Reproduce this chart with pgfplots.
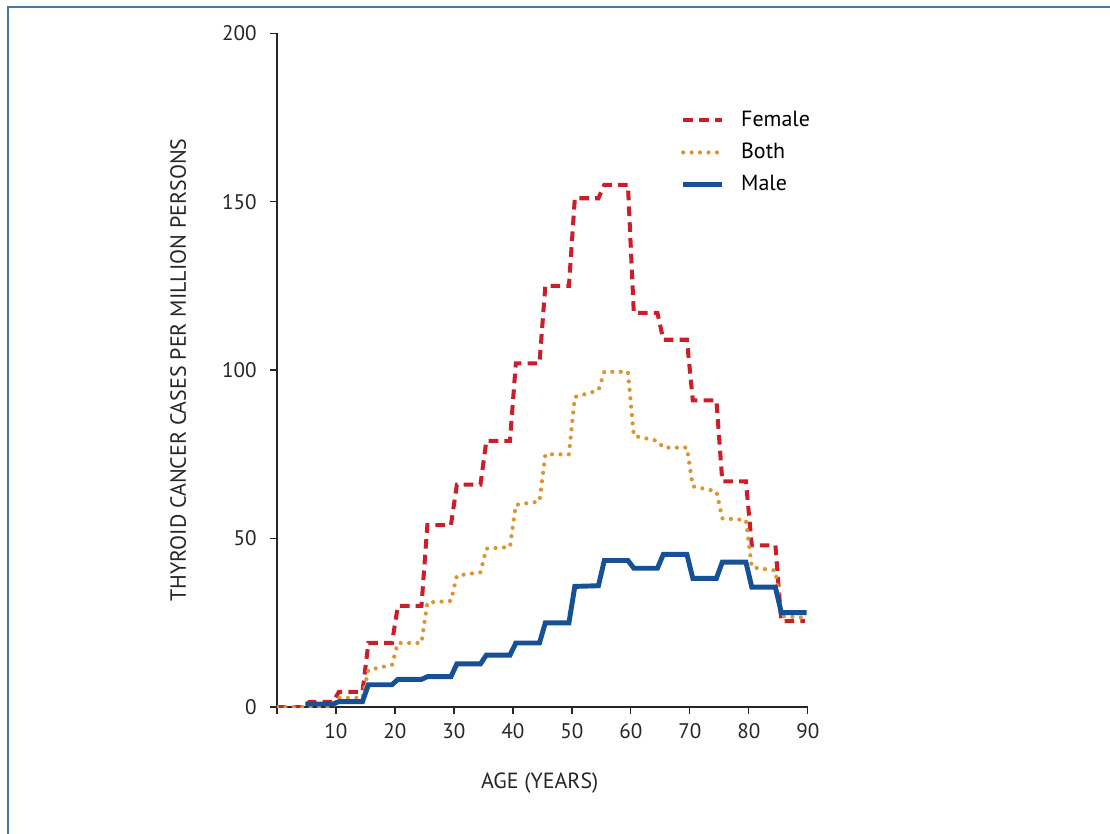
\documentclass[border=0pt]{standalone}
\usepackage{pgfplots}
\pgfplotsset{compat=1.18}
\usepackage{fontspec}
\setmainfont{PT Sans}

\definecolor{femred}{RGB}{204,30,40}
\definecolor{bothorange}{RGB}{222,148,50}
\definecolor{maleblue}{RGB}{22,80,150}
\definecolor{framecol}{RGB}{72,118,166}

\begin{document}
\begin{tikzpicture}[x=0.02cm,y=0.02cm]
  \useasboundingbox (0,0) rectangle (1110,833);
  % frame (left and top edges only are visible)
  \draw[framecol, line width=1.6pt] (8,-10) -- (8,826) -- (1120,826);

  \begin{axis}[
    at={(5.54cm,2.52cm)}, anchor=south west,
    scale only axis,
    width=10.62cm, height=13.48cm,
    xmin=0, xmax=90, ymin=0, ymax=200,
    axis lines=left,
    axis line style={-, line width=0.7pt, black!85},
    xtick={0,10,...,90},
    xticklabels={,10,20,30,40,50,60,70,80,90},
    ytick={0,50,100,150,200},
    /pgf/number format/assume math mode=true,
    tick align=outside,
    major tick length=4pt,
    tick style={line width=0.7pt, black!85},
    ticklabel style={font=\fontsize{12}{14}\selectfont, text=black!85},
    xticklabel style={yshift=-2pt},
    yticklabel style={xshift=-4pt},
    xlabel={AGE (YEARS)},
    ylabel={THYROID CANCER CASES PER MILLION PERSONS},
    label style={font=\fontsize{12.5}{15}\selectfont, text=black!85},
    xlabel style={at={(axis description cs:0.495,-0.113)}, anchor=center},
    ylabel style={at={(axis description cs:-0.186,0.5)}, anchor=center},
    legend style={at={(axis cs:67.5,179)}, anchor=north west, draw=none, fill=none,
      font=\fontsize{12.5}{15}\selectfont, row sep=4pt},
    legend cell align=left,
    legend image code/.code={\draw[#1] (0cm,0cm) -- (0.78cm,0cm); \path (1.04cm,0cm);},
  ]
  % Female
  \addplot[femred, line width=2.3pt, dash pattern=on 5.5pt off 3.5pt] coordinates {
    (0,0) (4.5,0) (5.5,1.5) (9.5,1.5) (10.5,4.5) (14.5,4.5) (15.5,19) (19.5,19)
    (20.5,30) (24.5,30) (25.5,54) (29.5,54) (30.5,66) (34.5,66) (35.5,79) (39.5,79)
    (40.5,102) (44.5,102) (45.5,125) (49.5,125) (50.5,151) (54.5,151) (55.5,155) (59.5,155)
    (60.5,117) (64.5,117) (65.5,109) (69.5,109) (70.5,91) (74.5,91) (75.5,67) (79.5,67)
    (80.5,48) (84.5,48) (85.5,25.5) (89.5,25.5)
  };
  \addlegendentry{Female}
  % Both
  \addplot[bothorange, line width=2.4pt, line cap=round, dash pattern=on 0pt off 4.8pt] coordinates {
    (0,0) (4.5,0) (5.5,0) (9.5,0) (10.5,2.7) (14.5,2.7) (15.5,11) (19.5,12.5)
    (20.5,19) (24.5,19) (25.5,31) (29.5,31.5) (30.5,39) (34.5,40) (35.5,47) (39.5,47.5)
    (40.5,60) (44.5,61) (45.5,75) (49.5,75) (50.5,92) (54.5,94) (55.5,99.5) (59.5,99.5)
    (60.5,80.5) (64.5,79) (65.5,77) (69.5,77) (70.5,65.5) (74.5,64) (75.5,56) (79.5,55.5)
    (80.5,41.5) (84.5,40.5) (85.5,27) (89.5,26.5)
  };
  \addlegendentry{Both}
  % Male
  \addplot[maleblue, line width=2.8pt] coordinates {
    (4.8,0.9) (9.5,0.9) (10.5,1.6) (14.5,1.6) (15.5,6.6) (19.5,6.6)
    (20.5,8.2) (24.5,8.2) (25.5,9) (29.5,9) (30.5,12.8) (34.5,12.8) (35.5,15.4) (39.5,15.4)
    (40.5,19) (44.5,19) (45.5,25) (49.5,25) (50.5,35.8) (54.5,36) (55.5,43.5) (59.5,43.5)
    (60.5,41.2) (64.5,41.2) (65.5,45.3) (69.5,45.3) (70.5,38.2) (74.5,38.2) (75.5,43) (79.5,43)
    (80.5,35.6) (84.5,35.6) (85.5,28) (89.8,28)
  };
  \addlegendentry{Male}
  \end{axis}
\end{tikzpicture}
\end{document}
